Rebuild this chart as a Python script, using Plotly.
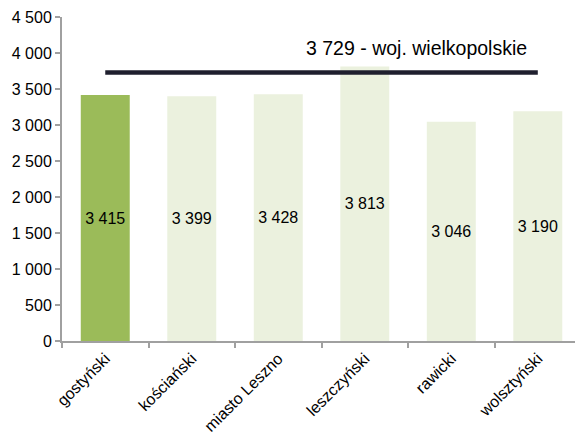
import plotly.graph_objects as go

categories = ["gostyński", "kościański", "miasto Leszno", "leszczyński", "rawicki", "wolsztyński"]
values = [3415, 3399, 3428, 3813, 3046, 3190]
region_value = 3729
region_label = "woj. wielkopolskie"

colors = ["#9BBB59"] + ["#EBF1DE"] * (len(categories) - 1)

fig = go.Figure()
fig.add_trace(go.Bar(
    x=categories, y=values, marker=dict(color=colors, line=dict(width=0)),
    text=values, texttemplate="%{y:,.0f}", textposition="inside",
    insidetextanchor="middle", textangle=0,
    textfont=dict(family="Liberation Sans, Arial", size=16, color="#000000"),
    hoverinfo="skip",
))
fig.add_trace(go.Scatter(
    x=categories, y=[region_value] * len(categories), mode="lines",
    line=dict(color="#1F1F2E", width=4.5), hoverinfo="skip",
))
fig.add_annotation(xref="x", yref="y", x=3.6, y=region_value, yshift=25,
                   text=f"3 729 - {region_label}", showarrow=False,
                   font=dict(family="Liberation Sans, Arial", size=19.5, color="#000000"))

fig.update_layout(
    width=575, height=440,
    margin=dict(l=62, r=0, t=17, b=99),
    paper_bgcolor="white", plot_bgcolor="white",
    separators=", ",
    bargap=0.434,
    showlegend=False,
    font=dict(family="Liberation Sans, Arial", size=16, color="#000000"),
)
fig.update_yaxes(range=[0, 4500], dtick=500, tickformat=",.0f",
                 showgrid=False, zeroline=False, automargin=False,
                 showline=True, linecolor="#A0A0A0", linewidth=2,
                 ticks="outside", ticklen=5, tickcolor="#A0A0A0", tickwidth=1.5,
                 tickfont=dict(size=16))
fig.update_xaxes(range=[-0.5, 5.43], showgrid=False, showline=True,
                 linecolor="#A0A0A0", linewidth=2, automargin=False,
                 ticks="outside", ticklen=5, tickcolor="#A0A0A0", tickwidth=1.5,
                 tickson="boundaries", tickangle=-45, tickfont=dict(size=16))

fig.write_html("out.html", config={"displayModeBar": False},
               post_script="document.body.style.margin='0px';")
